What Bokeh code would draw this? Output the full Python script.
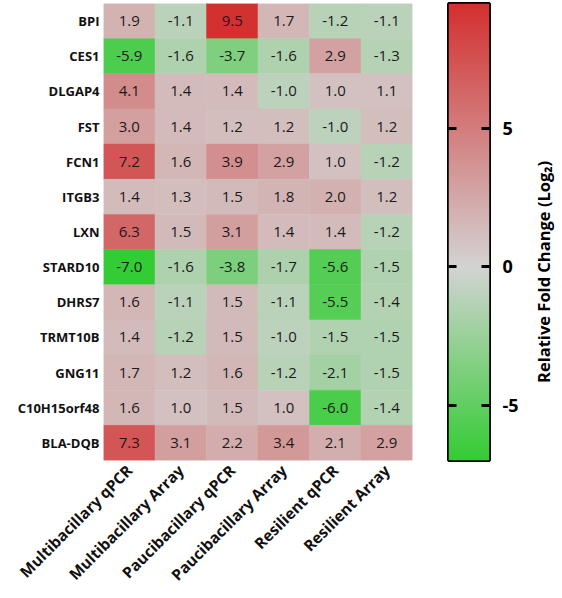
import numpy as np
from math import pi
from bokeh.plotting import figure
from bokeh.models import LinearColorMapper, ColumnDataSource, FactorRange, Range1d, FixedTicker, LinearAxis, Label
from bokeh.transform import transform
from bokeh.layouts import row
from bokeh.core.properties import value
from bokeh.embed import file_html
from bokeh.resources import INLINE

genes = ["BPI", "CES1", "DLGAP4", "FST", "FCN1", "ITGB3", "LXN", "STARD10",
         "DHRS7", "TRMT10B", "GNG11", "C10H15orf48", "BLA-DQB"]
groups = ["Multibacillary qPCR", "Multibacillary Array", "Paucibacillary qPCR",
          "Paucibacillary Array", "Resilient qPCR", "Resilient Array"]

mb_qpcr = [1.9, -5.9, 4.1, 3.0, 7.2, 1.4, 6.3, -7.0, 1.6, 1.4, 1.7, 1.6, 7.3]
mb_array = [-1.1, -1.6, 1.4, 1.4, 1.6, 1.3, 1.5, -1.6, -1.1, -1.2, 1.2, 1.0, 3.1]
pb_qpcr = [9.5, -3.7, 1.4, 1.2, 3.9, 1.5, 3.1, -3.8, 1.5, 1.5, 1.6, 1.5, 2.2]
pb_array = [1.7, -1.6, -1.0, 1.2, 2.9, 1.8, 1.4, -1.7, -1.1, -1.0, -1.2, 1.0, 3.4]
rs_qpcr = [-1.2, 2.9, 1.0, -1.0, 1.0, 2.0, 1.4, -5.6, -5.5, -1.5, -2.1, -6.0, 2.1]
rs_array = [-1.1, -1.3, 1.1, 1.2, -1.2, 1.2, -1.2, -1.5, -1.4, -1.5, -1.5, -1.4, 2.9]

scale_low = -7.0
scale_high = 9.5
cbar_ticks = [-5, 0, 5]
cbar_tick_labels = ["-5", "0", "5"]
cbar_title = "Relative Fold Change (Log\u2082)"

FONT = "Open Sans"
GREEN = (51, 204, 51)
GREY = (211, 211, 211)
RED = (211, 47, 47)


def col_for(v):
    if v < 0:
        t = min(1.0, v / scale_low)
        c = [GREY[i] + (GREEN[i] - GREY[i]) * t for i in range(3)]
    else:
        t = min(1.0, v / scale_high)
        c = [GREY[i] + (RED[i] - GREY[i]) * t for i in range(3)]
    return "#%02x%02x%02x" % tuple(int(round(x)) for x in c)


N = 256
step = (scale_high - scale_low) / N
palette = [col_for(scale_low + (i + 0.5) * step) for i in range(N)]
mapper = LinearColorMapper(palette=palette, low=scale_low, high=scale_high)

series = [mb_qpcr, mb_array, pb_qpcr, pb_array, rs_qpcr, rs_array]
xs, ys, vals = [], [], []
for g, s in zip(groups, series):
    for gene, v in zip(genes, s):
        xs.append(g)
        ys.append(gene)
        vals.append(v)
src = ColumnDataSource(dict(x=xs, y=ys, v=vals, lab=["%.1f" % v for v in vals]))

H = 596
p = figure(x_range=FactorRange(*groups), y_range=FactorRange(*reversed(genes)),
           width=425, height=H, output_backend="svg", toolbar_location=None,
           min_border_left=103, min_border_right=13, min_border_top=2, min_border_bottom=130)
p.rect(x="x", y="y", width=1, height=1, source=src,
       fill_color=transform("v", mapper), line_color=transform("v", mapper), line_width=0.5)
p.text(x="x", y="y", text="lab", source=src, text_align="center", text_baseline="middle",
       text_font=value(FONT), text_font_size="15px", text_color="#1a1a1a")
p.outline_line_color = None
p.grid.grid_line_color = None
for ax in (p.xaxis, p.yaxis):
    ax.axis_line_color = None
    ax.major_tick_line_color = None
    ax.major_tick_out = 0
    ax.major_tick_in = 0
    ax.major_label_text_font = FONT
    ax.major_label_text_font_style = "bold"
    ax.major_label_text_color = "#111111"
p.yaxis.major_label_text_font_size = "13px"
p.yaxis.major_label_standoff = 4
p.xaxis.major_label_text_font_size = "15.5px"
p.xaxis.major_label_orientation = pi / 4
p.xaxis.major_label_standoff = 7

# colour bar figure
c = figure(x_range=Range1d(0, 1), y_range=Range1d(scale_low, scale_high),
           width=99, height=H, output_backend="svg", toolbar_location=None,
           y_axis_location="right",
           min_border_left=23, min_border_right=35, min_border_top=3, min_border_bottom=129)
grad = np.linspace(scale_low, scale_high, N).reshape(-1, 1)
c.image(image=[grad], x=0, y=scale_low, dw=1, dh=scale_high - scale_low, color_mapper=mapper)
c.xaxis.visible = False
c.grid.grid_line_color = None
c.outline_line_color = "black"
c.outline_line_width = 3
c.yaxis.ticker = FixedTicker(ticks=cbar_ticks)
c.yaxis.major_label_overrides = dict(zip(cbar_ticks, cbar_tick_labels))
c.yaxis.axis_line_color = None
c.yaxis.major_tick_in = 8
c.yaxis.major_tick_out = 0
c.yaxis.major_tick_line_width = 3
c.yaxis.minor_tick_line_color = None
c.yaxis.major_label_text_font = FONT
c.yaxis.major_label_text_font_style = "bold"
c.yaxis.major_label_text_font_size = "18px"
c.yaxis.major_label_text_color = "black"
c.yaxis.major_label_standoff = 13
lax = LinearAxis(ticker=FixedTicker(ticks=cbar_ticks), axis_line_color=None,
                 major_tick_in=8, major_tick_out=0, major_tick_line_width=3,
                 minor_tick_line_color=None,
                 major_label_overrides={t: "" for t in cbar_ticks})
c.add_layout(lax, "left")

# colour bar title figure
t = figure(x_range=Range1d(0, 1), y_range=Range1d(scale_low, scale_high),
           width=36, height=H, output_backend="svg", toolbar_location=None,
           min_border_left=0, min_border_right=0, min_border_top=3, min_border_bottom=129)
t.axis.visible = False
t.grid.grid_line_color = None
t.outline_line_color = None
t.add_layout(Label(x=0.53, y=-0.19, text=cbar_title, angle=pi / 2,
                   text_align="center", text_baseline="middle", text_font=FONT,
                   text_font_style="bold", text_font_size="16.5px", text_color="black"))

layout = row(p, c, t)
open("out.html", "w").write(file_html(layout, INLINE))
